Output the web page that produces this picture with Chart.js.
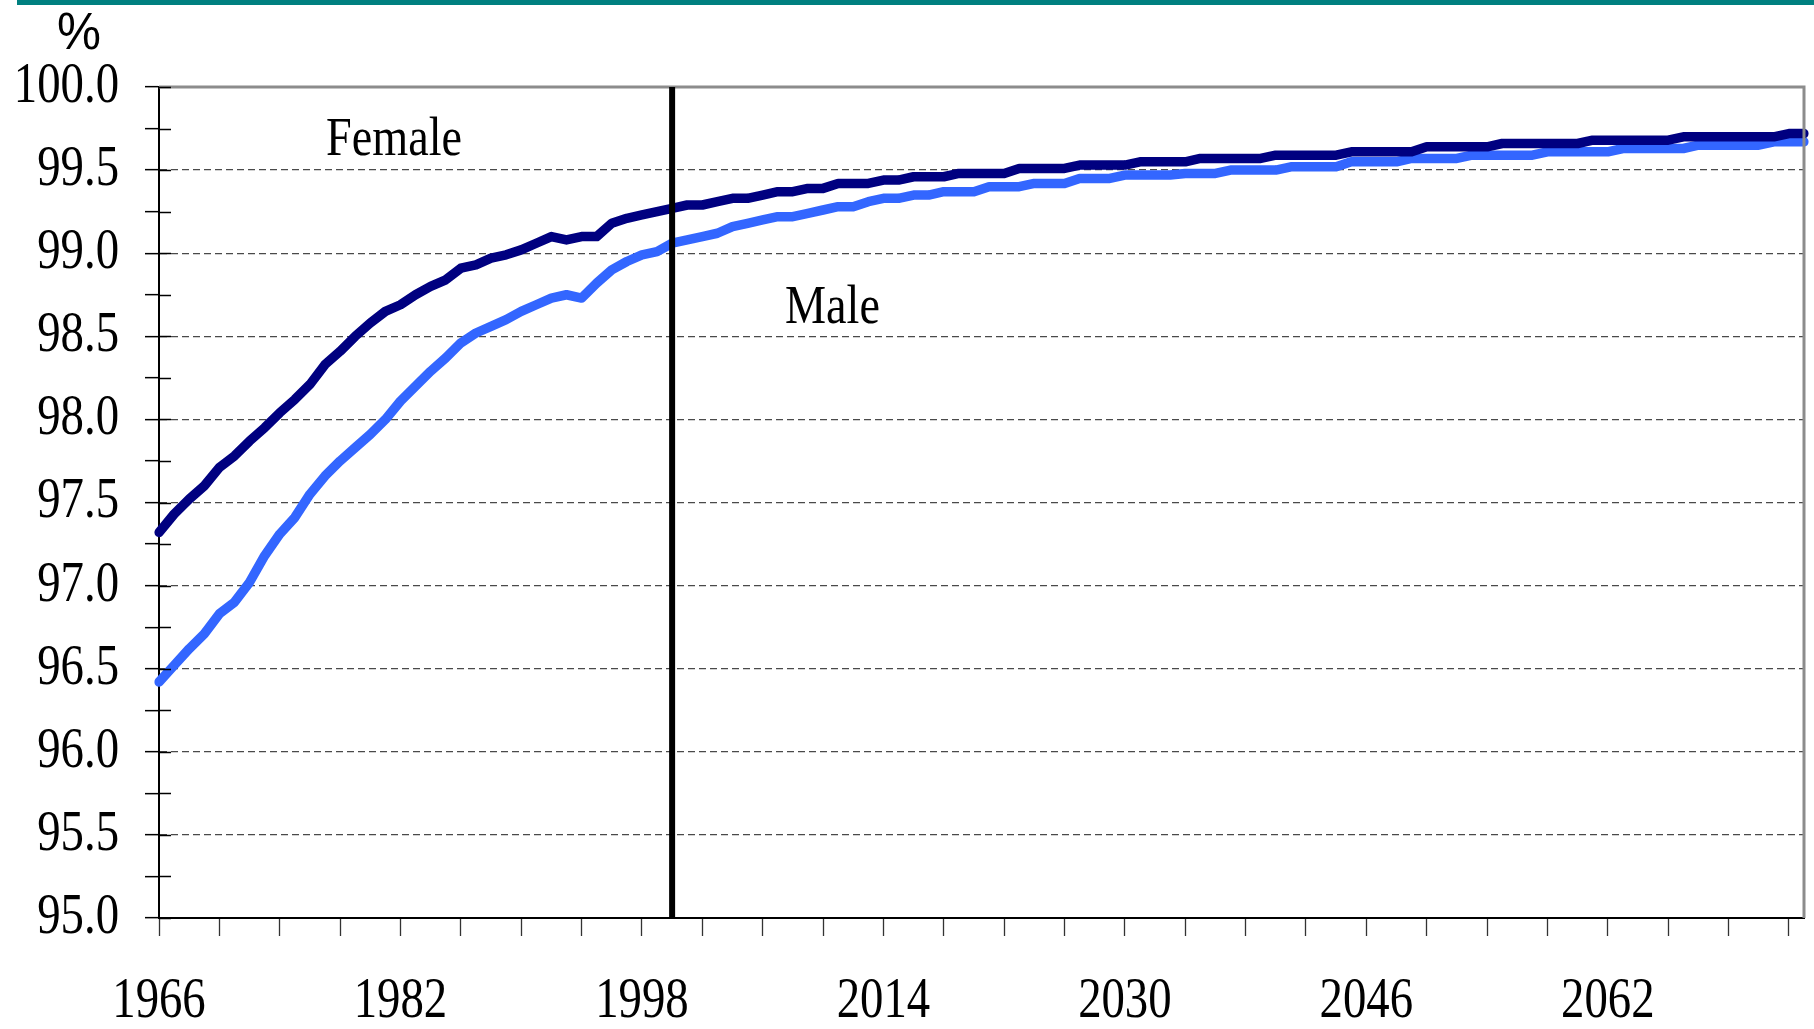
<!DOCTYPE html>
<html>
<head>
<meta charset="utf-8">
<script src="https://cdn.jsdelivr.net/npm/chart.js@4.4.1/dist/chart.umd.min.js"></script>
<style>
html,body{margin:0;padding:0;background:#fff;overflow:hidden}
#wrap{position:absolute;left:0;top:0;width:1814px;height:1029px}
</style>
</head>
<body>
<div id="wrap"><canvas id="c" width="1814" height="1029"></canvas></div>
<script>
// ---- data ----
const years = [
  1966,1967,1968,1969,1970,1971,1972,1973,1974,1975,
  1976,1977,1978,1979,1980,1981,1982,1983,1984,1985,
  1986,1987,1988,1989,1990,1991,1992,1993,1994,1995,
  1996,1997,1998,1999,2000,2001,2002,2003,2004,2005,
  2006,2007,2008,2009,2010,2011,2012,2013,2014,2015,
  2016,2017,2018,2019,2020,2021,2022,2023,2024,2025,
  2026,2027,2028,2029,2030,2031,2032,2033,2034,2035,
  2036,2037,2038,2039,2040,2041,2042,2043,2044,2045,
  2046,2047,2048,2049,2050,2051,2052,2053,2054,2055,
  2056,2057,2058,2059,2060,2061,2062,2063,2064,2065,
  2066,2067,2068,2069,2070,2071,2072,2073,2074,2075
];
const female = [
  97.32,97.43,97.52,97.60,97.71,97.78,97.87,97.95,98.04,98.12,
  98.21,98.33,98.41,98.50,98.58,98.65,98.69,98.75,98.80,98.84,
  98.91,98.93,98.97,98.99,99.02,99.06,99.10,99.08,99.10,99.10,
  99.18,99.21,99.23,99.25,99.27,99.29,99.29,99.31,99.33,99.33,
  99.35,99.37,99.37,99.39,99.39,99.42,99.42,99.42,99.44,99.44,
  99.46,99.46,99.46,99.48,99.48,99.48,99.48,99.51,99.51,99.51,
  99.51,99.53,99.53,99.53,99.53,99.55,99.55,99.55,99.55,99.57,
  99.57,99.57,99.57,99.57,99.59,99.59,99.59,99.59,99.59,99.61,
  99.61,99.61,99.61,99.61,99.64,99.64,99.64,99.64,99.64,99.66,
  99.66,99.66,99.66,99.66,99.66,99.68,99.68,99.68,99.68,99.68,
  99.68,99.70,99.70,99.70,99.70,99.70,99.70,99.70,99.72,99.72
];
const male = [
  96.42,96.52,96.62,96.71,96.83,96.90,97.02,97.18,97.31,97.41,
  97.55,97.66,97.75,97.83,97.91,98.00,98.11,98.20,98.29,98.37,
  98.46,98.52,98.56,98.60,98.65,98.69,98.73,98.75,98.73,98.82,
  98.90,98.95,98.99,99.01,99.06,99.08,99.10,99.12,99.16,99.18,
  99.20,99.22,99.22,99.24,99.26,99.28,99.28,99.31,99.33,99.33,
  99.35,99.35,99.37,99.37,99.37,99.40,99.40,99.40,99.42,99.42,
  99.42,99.45,99.45,99.45,99.47,99.47,99.47,99.47,99.48,99.48,
  99.48,99.50,99.50,99.50,99.50,99.52,99.52,99.52,99.52,99.55,
  99.55,99.55,99.55,99.57,99.57,99.57,99.57,99.59,99.59,99.59,
  99.59,99.59,99.61,99.61,99.61,99.61,99.61,99.63,99.63,99.63,
  99.63,99.63,99.65,99.65,99.65,99.65,99.65,99.67,99.67,99.67
];
const seriesNames = ['Female', 'Male'];
const xLabelYears = [1966, 1982, 1998, 2014, 2030, 2046, 2062];
const yTickLabels = ['95.0','95.5','96.0','96.5','97.0','97.5','98.0','98.5','99.0','99.5','100.0'];
const markerYear = 2000;
const unitLabel = '%';

// ---- styles ----
const SERIF = '"Liberation Serif", "Times New Roman", serif';
const SANS = '"Liberation Sans", Arial, sans-serif';
const TEXT_SX = 0.82;

function isHalf(v){ return Math.abs(v*2 - Math.round(v*2)) < 1e-6; }

const condensePlugin = {
  id: 'condense',
  beforeInit(chart){
    const ctx = chart.ctx;
    if (ctx._origFill) return;
    const orig = ctx.fillText;
    ctx._origFill = orig;
    ctx._sx = TEXT_SX;
    ctx.fillText = function(t, x, y, mw){
      this.save();
      this.translate(x, y);
      this.scale(this._sx, 1);
      if (mw === undefined) orig.call(this, t, 0, 0);
      else orig.call(this, t, 0, 0, mw / this._sx);
      this.restore();
    };
  }
};

const decorPlugin = {
  id: 'decor',
  afterDatasetsDraw(chart){
    const {ctx, chartArea: a, scales: {x, y}} = chart;
    ctx.save();
    // top and right frame
    ctx.strokeStyle = '#8c8c8c';
    ctx.lineWidth = 3;
    ctx.beginPath();
    ctx.moveTo(a.left, a.top);
    ctx.lineTo(a.right, a.top);
    ctx.lineTo(a.right, a.bottom);
    ctx.stroke();
    // inner half of the crossing y ticks
    ctx.strokeStyle = '#000';
    ctx.lineWidth = 1.5;
    y.ticks.forEach(t => {
      const py = Math.round(y.getPixelForValue(t.value)) + 0.5;
      ctx.beginPath();
      ctx.moveTo(a.left, py);
      ctx.lineTo(a.left + 12, py);
      ctx.stroke();
    });
    // vertical marker line
    const px = x.getPixelForValue(years.indexOf(markerYear));
    ctx.strokeStyle = '#000';
    ctx.lineWidth = 6;
    ctx.beginPath();
    ctx.moveTo(px, a.top);
    ctx.lineTo(px, a.bottom);
    ctx.stroke();
    // series labels
    ctx.fillStyle = '#000';
    ctx.textBaseline = 'alphabetic';
    ctx.textAlign = 'left';
    ctx.font = '55px ' + SERIF;
    ctx._sx = 0.84;
    ctx.fillText(seriesNames[0], 326, 155);
    ctx.fillText(seriesNames[1], 785, 323);
    ctx.restore();
  },
  afterDraw(chart){
    const ctx = chart.ctx;
    ctx.save();
    // teal rule at top
    ctx.fillStyle = '#008080';
    ctx.fillRect(17, 0, 1814 - 17, 5);
    // unit label
    ctx.fillStyle = '#000';
    ctx.font = '51px ' + SANS;
    ctx.textAlign = 'center';
    ctx.textBaseline = 'alphabetic';
    ctx._sx = 0.97;
    ctx.fillText(unitLabel, 79, 49);
    ctx._sx = TEXT_SX;
    ctx.restore();
  }
};

new Chart(document.getElementById('c'), {
  type: 'line',
  data: {
    labels: years,
    datasets: [
      { label: seriesNames[0], data: female, borderColor: '#000080', borderWidth: 9.5,
        pointRadius: 0, tension: 0, borderCapStyle: 'round', borderJoinStyle: 'round', fill: false },
      { label: seriesNames[1], data: male, borderColor: '#3366ff', borderWidth: 9.5,
        pointRadius: 0, tension: 0, borderCapStyle: 'round', borderJoinStyle: 'round', fill: false }
    ]
  },
  options: {
    responsive: false,
    animation: false,
    devicePixelRatio: 1,
    layout: { autoPadding: false, padding: { left: 0, right: 10, top: 87, bottom: 0 } },
    plugins: { legend: { display: false }, tooltip: { enabled: false } },
    scales: {
      x: {
        type: 'category',
        offset: false,
        afterFit: s => { s.height = 111; s.paddingRight = 0; s.paddingLeft = 0; },
        ticks: {
          autoSkip: false, maxRotation: 0, minRotation: 0, padding: 38, color: '#000',
          font: { family: SERIF, size: 57, lineHeight: 1 },
          callback: (v, i) => xLabelYears.includes(years[i]) ? String(years[i]) : ''
        },
        grid: {
          drawOnChartArea: false, drawTicks: true, tickLength: 18, tickWidth: 1.3,
          color: 'rgba(0,0,0,0)',
          tickColor: c => (c.index % 4 === 0 ? '#333' : 'rgba(0,0,0,0)')
        },
        border: { display: true, color: '#000', width: 2 }
      },
      y: {
        position: 'left',
        min: 95, max: 100,
        afterFit: s => { s.width = 159; },
        ticks: {
          stepSize: 0.25, autoSkip: false, padding: 26, color: '#000',
          font: { family: SERIF, size: 57, lineHeight: 1 },
          callback: v => {
            if (!isHalf(v)) return '';
            const i = Math.round((v - 95) * 2);
            return yTickLabels[i];
          }
        },
        grid: {
          drawOnChartArea: true, lineWidth: 1.3,
          color: c => (c.tick && isHalf(c.tick.value) && c.tick.value > 95.01 && c.tick.value < 99.99) ? '#4a4a4a' : 'rgba(0,0,0,0)',
          tickLength: 14, tickWidth: 1.5, tickColor: '#000'
        },
        border: { display: true, color: '#000', width: 2, dash: [7, 4] }
      }
    }
  },
  plugins: [condensePlugin, decorPlugin]
});
</script>
</body>
</html>
